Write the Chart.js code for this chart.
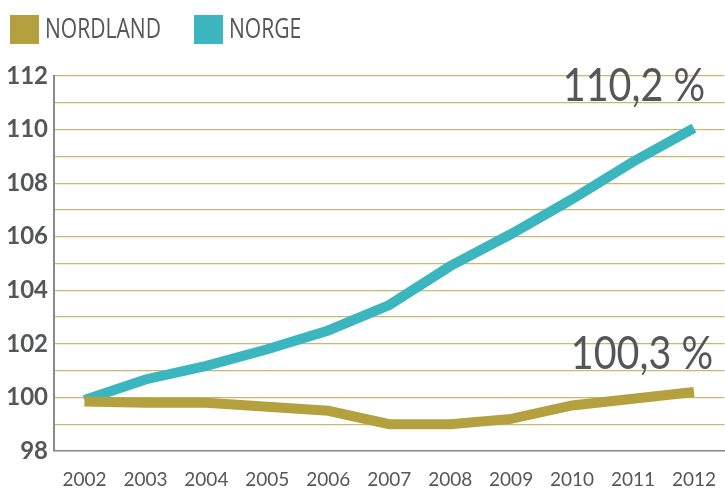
<!DOCTYPE html>
<html>
<head>
<meta charset="utf-8">
<script src="https://cdn.jsdelivr.net/npm/chart.js@4/dist/chart.umd.min.js"></script>
<style>
  html, body { margin: 0; padding: 0; background: #fff; }
  #wrap { width: 725px; height: 491px; position: relative; }
</style>
</head>
<body>
<div id="wrap"><canvas id="chart"></canvas></div>
<script>
// years on the x axis
const years = ['2002', '2003', '2004', '2005', '2006', '2007', '2008', '2009', '2010', '2011', '2012'];
// index, 2002 = 100
const nordland = [99.85, 99.8, 99.8, 99.65, 99.5, 99.0, 99.0, 99.2, 99.7, 99.95, 100.2];
const norge = [99.9, 100.67, 101.18, 101.8, 102.5, 103.45, 104.9, 106.1, 107.4, 108.8, 110.05];
const endLabels = ['100,3 %', '110,2 %'];

const gold = '#b5a03f';
const teal = '#3bb6bf';
const textGrey = '#555659';

// draws text squeezed horizontally (the original uses a condensed face)
function narrowText(ctx, txt, x, y, sx, align) {
  const w = ctx.measureText(txt).width * sx;
  let left = x;
  if (align === 'center') left = x - w / 2;
  ctx.save();
  ctx.translate(left, y);
  ctx.scale(sx, 1);
  ctx.textAlign = 'left';
  ctx.fillText(txt, 0, 0);
  ctx.restore();
  return w;
}

// legend + end value labels drawn on the canvas
const extras = {
  id: 'extras',
  afterDraw(chart) {
    const ctx = chart.ctx;
    ctx.save();
    // legend
    let x = 10;
    chart.data.datasets.forEach(ds => {
      ctx.fillStyle = ds.borderColor;
      ctx.fillRect(x, 15, 29, 29);
      ctx.fillStyle = textGrey;
      ctx.font = '27px "Open Sans", sans-serif';
      ctx.textBaseline = 'middle';
      const w = narrowText(ctx, ds.label, x + 35, 30, 0.78, 'left');
      x += 35 + w + 33;
    });
    // end labels
    ctx.font = '47px Lato, sans-serif';
    ctx.textBaseline = 'alphabetic';
    const dx = [-52, -60];
    const dy = [-23, -27];
    chart.data.datasets.forEach((ds, i) => {
      const meta = chart.getDatasetMeta(i);
      const pt = meta.data[meta.data.length - 1];
      narrowText(ctx, endLabels[i], pt.x + dx[i], pt.y + dy[i], 0.84, 'center');
    });
    ctx.restore();
  }
};

new Chart(document.getElementById('chart'), {
  type: 'line',
  data: {
    labels: years,
    datasets: [
      { label: 'NORDLAND', data: nordland, borderColor: gold, backgroundColor: gold, borderWidth: 10, pointRadius: 0, tension: 0 },
      { label: 'NORGE', data: norge, borderColor: teal, backgroundColor: teal, borderWidth: 10, pointRadius: 0, tension: 0 }
    ]
  },
  options: {
    responsive: true,
    maintainAspectRatio: false,
    animation: false,
    layout: { padding: { top: 76, right: 0, left: 0, bottom: 0 } },
    plugins: {
      legend: { display: false },
      tooltip: { enabled: false }
    },
    scales: {
      x: {
        offset: true,
        grid: { display: false },
        border: { color: '#8a8a8a', width: 1.5 },
        ticks: { color: textGrey, font: { family: 'Lato, sans-serif', size: 19 }, padding: 9, maxRotation: 0 },
        afterFit(scale) { scale.height = 40; }
      },
      y: {
        min: 98,
        max: 112,
        ticks: {
          stepSize: 1,
          maxTicksLimit: 20,
          autoSkip: false,
          color: textGrey,
          font: { family: 'Lato, sans-serif', size: 24, weight: 'bold' },
          padding: 6,
          callback: v => (v % 2 === 0 ? v : '')
        },
        grid: { color: '#c9b872', lineWidth: 1.2, drawTicks: false },
        border: { color: '#8a8a8a', width: 2 },
        afterFit(scale) { scale.width = 54; }
      }
    }
  },
  plugins: [extras]
});
</script>
</body>
</html>
